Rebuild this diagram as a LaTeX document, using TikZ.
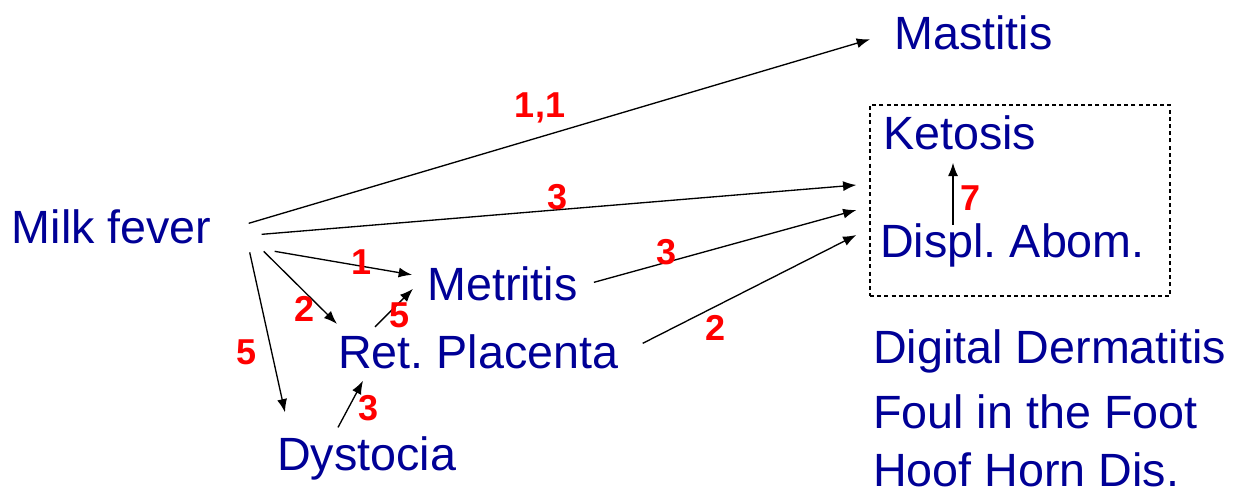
\documentclass[tikz,border=0pt]{standalone}
\usepackage{fontspec}
\setmainfont{Liberation Sans}
\usepackage{xcolor}
\usetikzlibrary{arrows.meta,positioning,calc}
\definecolor{diseaseblue}{RGB}{0,0,150}
\definecolor{riskred}{RGB}{255,0,0}
\frenchspacing

\begin{document}
\begin{tikzpicture}[x=0.75pt,y=-0.75pt,
	disease/.style={text=diseaseblue,font=\fontsize{35}{40}\selectfont,inner sep=0pt,anchor=base west},
	risk/.style={text=riskred,font=\bfseries\fontsize{27}{30}\selectfont,inner sep=0pt},
	link/.style={-{Latex[length=10pt,width=7.5pt]},line width=1pt},
	groupbox/.style={draw,dash pattern=on 3pt off 2.4pt,line width=0.9pt,minimum width=225pt,minimum height=143.25pt,inner sep=0pt}]
	\useasboundingbox (0,0) rectangle (1237,493);
	
	% diseases
	\node[disease] (mf) at (11.5,243) {Milk fever};
	\node[disease] (mast) at (894,49) {Mastitis};
	\node[disease] (ket) at (883,149) {Ketosis};
	\node[disease] (da) at (880,257) {Displ. Abom.};
	\node[disease] (met) at (427,300) {Metritis};
	\node[disease] (rp) at (338,368) {Ret. Placenta};
	\node[disease] (dys) at (277,470) {Dystocia};
	\node[disease] (dd) at (873,363) {Digital Dermatitis};
	\node[disease] (foul) at (873,428) {Foul in the Foot};
	\node[disease] (hhd) at (873,486) {Hoof Horn Dis.};
	
	% dashed group
	\node[groupbox] (grp) at (1020,200.5) {};
	
	% links from milk fever
	\draw[link] ($(mf.east)+(37,-3)$) -- ($(mast.west)+(-24,7)$);
	\draw[link] ($(mf.east)+(50,8)$) -- ($(grp.west)+(-13,-15.5)$);
	\draw[link] ($(mf.east)+(63,25)$) -- ($(met.west)+(-15,-8.5)$);
	\draw[link] ($(mf.east)+(52,25)$) -- ($(rp.north west)+(-1,-10)$);
	\draw[link] ($(mf.east)+(38,26)$) -- ($(dys.north west)+(8,-23.5)$);
	
	% other links
	\draw[link] ($(rp.north west)+(37,-7)$) -- ($(met.west)+(-14,5.5)$);
	\draw[link] ($(dys.north west)+(61,-8.5)$) -- ($(rp.south west)+(25,12)$);
	\draw[link] ($(met.east)+(16,-1)$) -- ($(grp.west)+(-13,9.5)$);
	\draw[link] ($(rp.east)+(24,-8)$) -- ($(grp.west)+(-13,34.5)$);
	\draw[link] ($(da.north west)+(73,2)$) -- ($(ket.south west)+(70,13)$);
	
	% numbers
	\node[risk] (r1) at (540,108) {1,1};
	\node[risk] (r2) at (558,197) {3};
	\node[risk] (r3) at (362,262) {1};
	\node[risk] (r4) at (305,309) {2};
	\node[risk] (r5) at (247,352) {5};
	\node[risk] (r6) at (400,315) {5};
	\node[risk] (r7) at (369,408) {3};
	\node[risk] (r8) at (667,252) {3};
	\node[risk] (r9) at (715,328) {2};
	\node[risk] (r10) at (970,198) {7};
\end{tikzpicture}
\end{document}
